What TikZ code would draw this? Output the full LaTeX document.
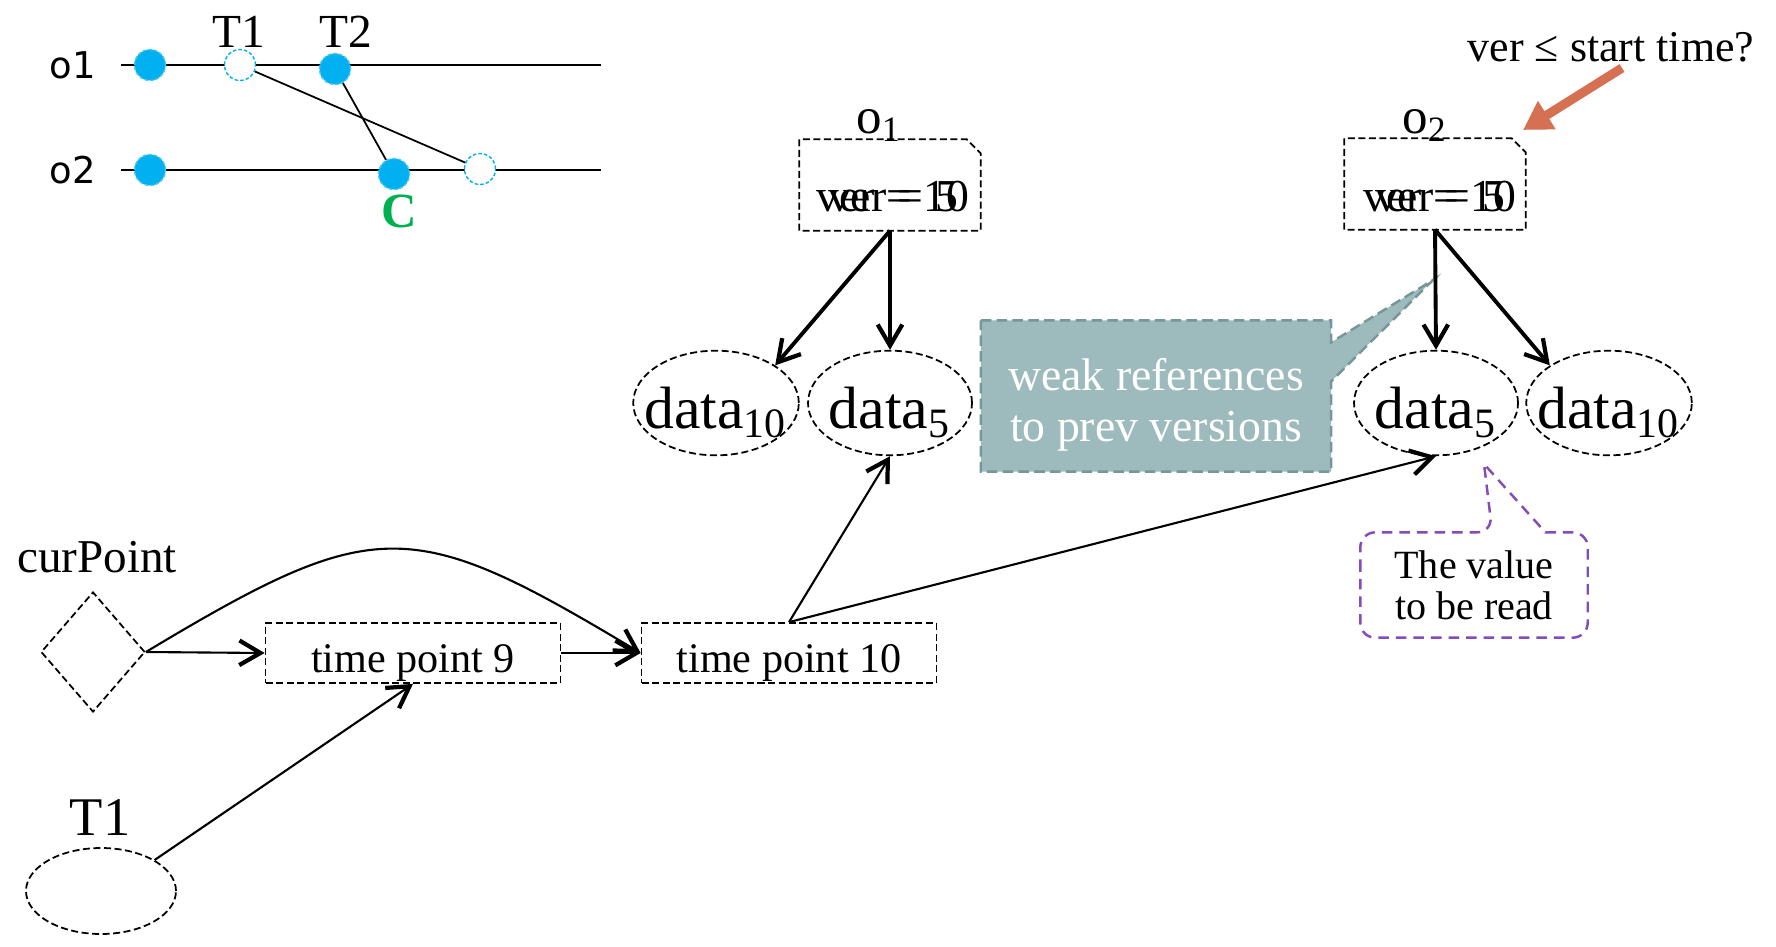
\documentclass[tikz,border=0pt]{standalone}
\usepackage{fontspec}
\setmainfont{Liberation Serif}
\newfontfamily\tlsans{DejaVu Sans}
\usetikzlibrary{calc, positioning}
\usetikzlibrary{arrows.meta}
\usetikzlibrary{shapes.geometric}
\usetikzlibrary{backgrounds}

\definecolor{dotblue}{RGB}{0,176,240}
\definecolor{cgreen}{RGB}{0,176,80}
\definecolor{weakfill}{RGB}{157,186,188}
\definecolor{weakline}{RGB}{118,150,152}
\definecolor{valpurple}{RGB}{132,76,184}
\definecolor{verorange}{RGB}{214,112,82}

\tikzset{
  dashbox/.style={draw, dash pattern=on 2pt off 1pt, line width=0.5pt},
  evt/.style={circle, minimum size=0.31cm, inner sep=0pt, fill=dotblue, draw=dotblue!70, dash pattern=on 1pt off 0.6pt, line width=0.4pt},
  evtopen/.style={evt, fill=white, draw=dotblue},
  dataell/.style={dashbox, ellipse, inner xsep=-0.13cm, inner ysep=0pt, minimum width=1.64cm, minimum height=1.04cm, text height=0.62cm, text depth=0.12cm, font=\fontsize{17}{20}\selectfont},
  tpbox/.style={dashbox, rectangle, minimum width=2.95cm, minimum height=0.60cm, inner sep=0pt, text height=0.48cm, text depth=0.10cm, font=\fontsize{12}{14}\selectfont},
  objbox/.style={rectangle, minimum width=1.80cm, minimum height=0.90cm, inner sep=0pt},
  vertxt/.style={anchor=base, inner sep=0pt, font=\fontsize{13}{15}\selectfont},
  objname/.style={anchor=base, inner sep=0pt, font=\fontsize{14.5}{16}\selectfont},
  barb/.style={-{Straight Barb[length=6pt,width=7pt,line width=1.2pt]}},
  thinarr/.style={barb, line width=0.6pt},
  thickarr/.style={barb, line width=1.1pt},
  tline/.style={line width=0.5pt},
  tlabel/.style={font=\fontsize{13.5}{15}\selectfont},
  olabel/.style={font=\tlsans\fontsize{10.5}{12}\selectfont},
}

\begin{document}
\begin{tikzpicture}
\useasboundingbox (0,0) rectangle (17.76,9.46);

% history of o1 / o2
\coordinate (o1s) at (1.21,8.81);
\coordinate (o1e) at (6.01,8.81);
\coordinate (o2s) at (1.21,7.76);
\coordinate (o2e) at (6.01,7.76);
\draw[tline] (o1s) -- (o1e);
\draw[tline] (o2s) -- (o2e);
\node[olabel] (o1lab) at (0.73,8.81) {o1};
\node[olabel] (o2lab) at (0.73,7.76) {o2};

\node[evt] (o1first) at (1.50,8.81) {};
\node[evtopen] (t1dot) at (2.40,8.81) {};
\node[evt] (t2dot) at (3.35,8.77) {};
\node[evt] (o2first) at (1.50,7.76) {};
\node[evt] (cdot) at (3.94,7.72) {};
\node[evtopen] (o2open) at (4.80,7.77) {};
\draw[tline] (t1dot) -- (o2open);
\draw[tline] (t2dot) -- (cdot);

\node[tlabel] (t1lab) at (2.39,9.14) {T1};
\node[tlabel] (t2lab) at (3.46,9.14) {T2};
\node[text=cgreen, font=\bfseries\fontsize{14}{16}\selectfont] (clab) at (3.99,7.35) {C};

% object headers
\node[objbox] (o1box) at (8.90,7.61) {};
\draw[dashbox] (o1box.south west) -- (o1box.north west) -- ([xshift=-0.14cm]o1box.north east)
  -- ([yshift=-0.14cm]o1box.north east) -- (o1box.south east) -- cycle;
\node[vertxt] (o1old) at (8.93,7.35) {ver = 10};
\node[vertxt] (o1new) at (8.93,7.35) {ver = 5};
\node[objname] (o1name) at (8.79,8.12) {o\textsubscript{1}};

\node[objbox] (o2box) at (14.35,7.62) {};
\draw[dashbox] (o2box.south west) -- (o2box.north west) -- ([xshift=-0.14cm]o2box.north east)
  -- ([yshift=-0.14cm]o2box.north east) -- (o2box.south east) -- cycle;
\node[vertxt] (o2old) at (14.40,7.35) {ver = 10};
\node[vertxt] (o2new) at (14.40,7.35) {ver = 5};
\node[objname] (o2name) at (14.25,8.12) {o\textsubscript{2}};

% versions
\node[dataell] (d10a) at (7.16,5.43) {data\textsubscript{10}};
\node[dataell] (d5a) at (8.90,5.43) {data\textsubscript{5}};
\node[dataell] (d5b) at (14.36,5.43) {data\textsubscript{5}};
\node[dataell] (d10b) at (16.09,5.43) {data\textsubscript{10}};

\draw[thickarr] (o1box.south) -- (d10a.north east);
\draw[thickarr] (o1box.south) -- (d5a.north);
\draw[thickarr] (o2box.south) -- (d5b.north);
\draw[thickarr] (o2box.south) -- (d10b.north west);

% time points
\node[tpbox] (tp9) at (4.13,2.93) {time point 9};
\node[tpbox] (tp10) at (7.89,2.93) {time point 10};
\node[dashbox, diamond, minimum width=1.04cm, minimum height=1.20cm, inner sep=0pt] (cp) at (0.93,2.94) {};
\node[font=\fontsize{13.4}{15}\selectfont] (cplab) at (0.97,3.89) {curPoint};
\node[dashbox, ellipse, minimum width=1.50cm, minimum height=0.86cm] (t1ell) at (1.01,0.55) {};
\node[font=\fontsize{15.5}{17}\selectfont] (t1name) at (1.00,1.28) {T1};

\draw[thinarr] (cp.east) -- (tp9.west);
\draw[thinarr] (cp.east) .. controls +(2.3,1.38) and +(-2.3,1.38) .. (tp10.west);
\draw[thinarr] (tp9.east) -- (tp10.west);
\draw[thinarr] (t1ell.north east) -- (tp9.south);
\draw[thinarr] (tp10.north) -- (d5a.south);
\draw[thinarr] (tp10.north) -- (d5b.south);

% question
\node[font=\fontsize{12.5}{14}\selectfont] (vq) at (16.11,8.99) {ver ≤ start time?};
\coordinate (qstart) at (16.22,8.78);
\coordinate (qend) at (15.23,8.16);
\draw[line width=2.6pt, verorange, -{Triangle[length=8pt,width=9pt]}] (qstart) -- (qend);

% callouts
\node[inner sep=0pt, minimum width=3.49cm, minimum height=1.50cm, text=white,
  font=\fontsize{13}{14.6}\selectfont] (weak) at (11.56,5.50)
  {\raisebox{-0.2cm}[0pt][0pt]{\begin{tabular}{@{}c@{}}weak references\\to prev versions\end{tabular}}};
\coordinate (weaktip) at (14.33,6.66);
\begin{scope}[on background layer]
\filldraw[fill=weakfill, draw=weakline, dash pattern=on 3pt off 1.5pt, line width=0.7pt]
  (weak.north west) -- (weak.north east) -- ([yshift=-0.22cm]weak.north east) -- (weaktip)
  -- ([yshift=-0.61cm]weak.north east) -- (weak.south east) -- (weak.south west) -- cycle;
\end{scope}

\node[inner sep=0pt, minimum width=2.26cm, minimum height=1.04cm, align=center,
  font=\fontsize{11.4}{11.7}\selectfont] (val) at (14.74,3.61) {The value\\to be read};
\coordinate (valtip) at (14.84,4.82);
\draw[valpurple, dash pattern=on 3pt off 2pt, line width=0.7pt]
  (val.west) [rounded corners=0.15cm] -- (val.north west) -- ([xshift=1.32cm]val.north west)
  [sharp corners] -- (valtip) -- ([xshift=1.85cm]val.north west)
  [rounded corners=0.15cm] -- (val.north east) -- (val.south east) -- (val.south west) -- cycle;

\end{tikzpicture}
\end{document}
